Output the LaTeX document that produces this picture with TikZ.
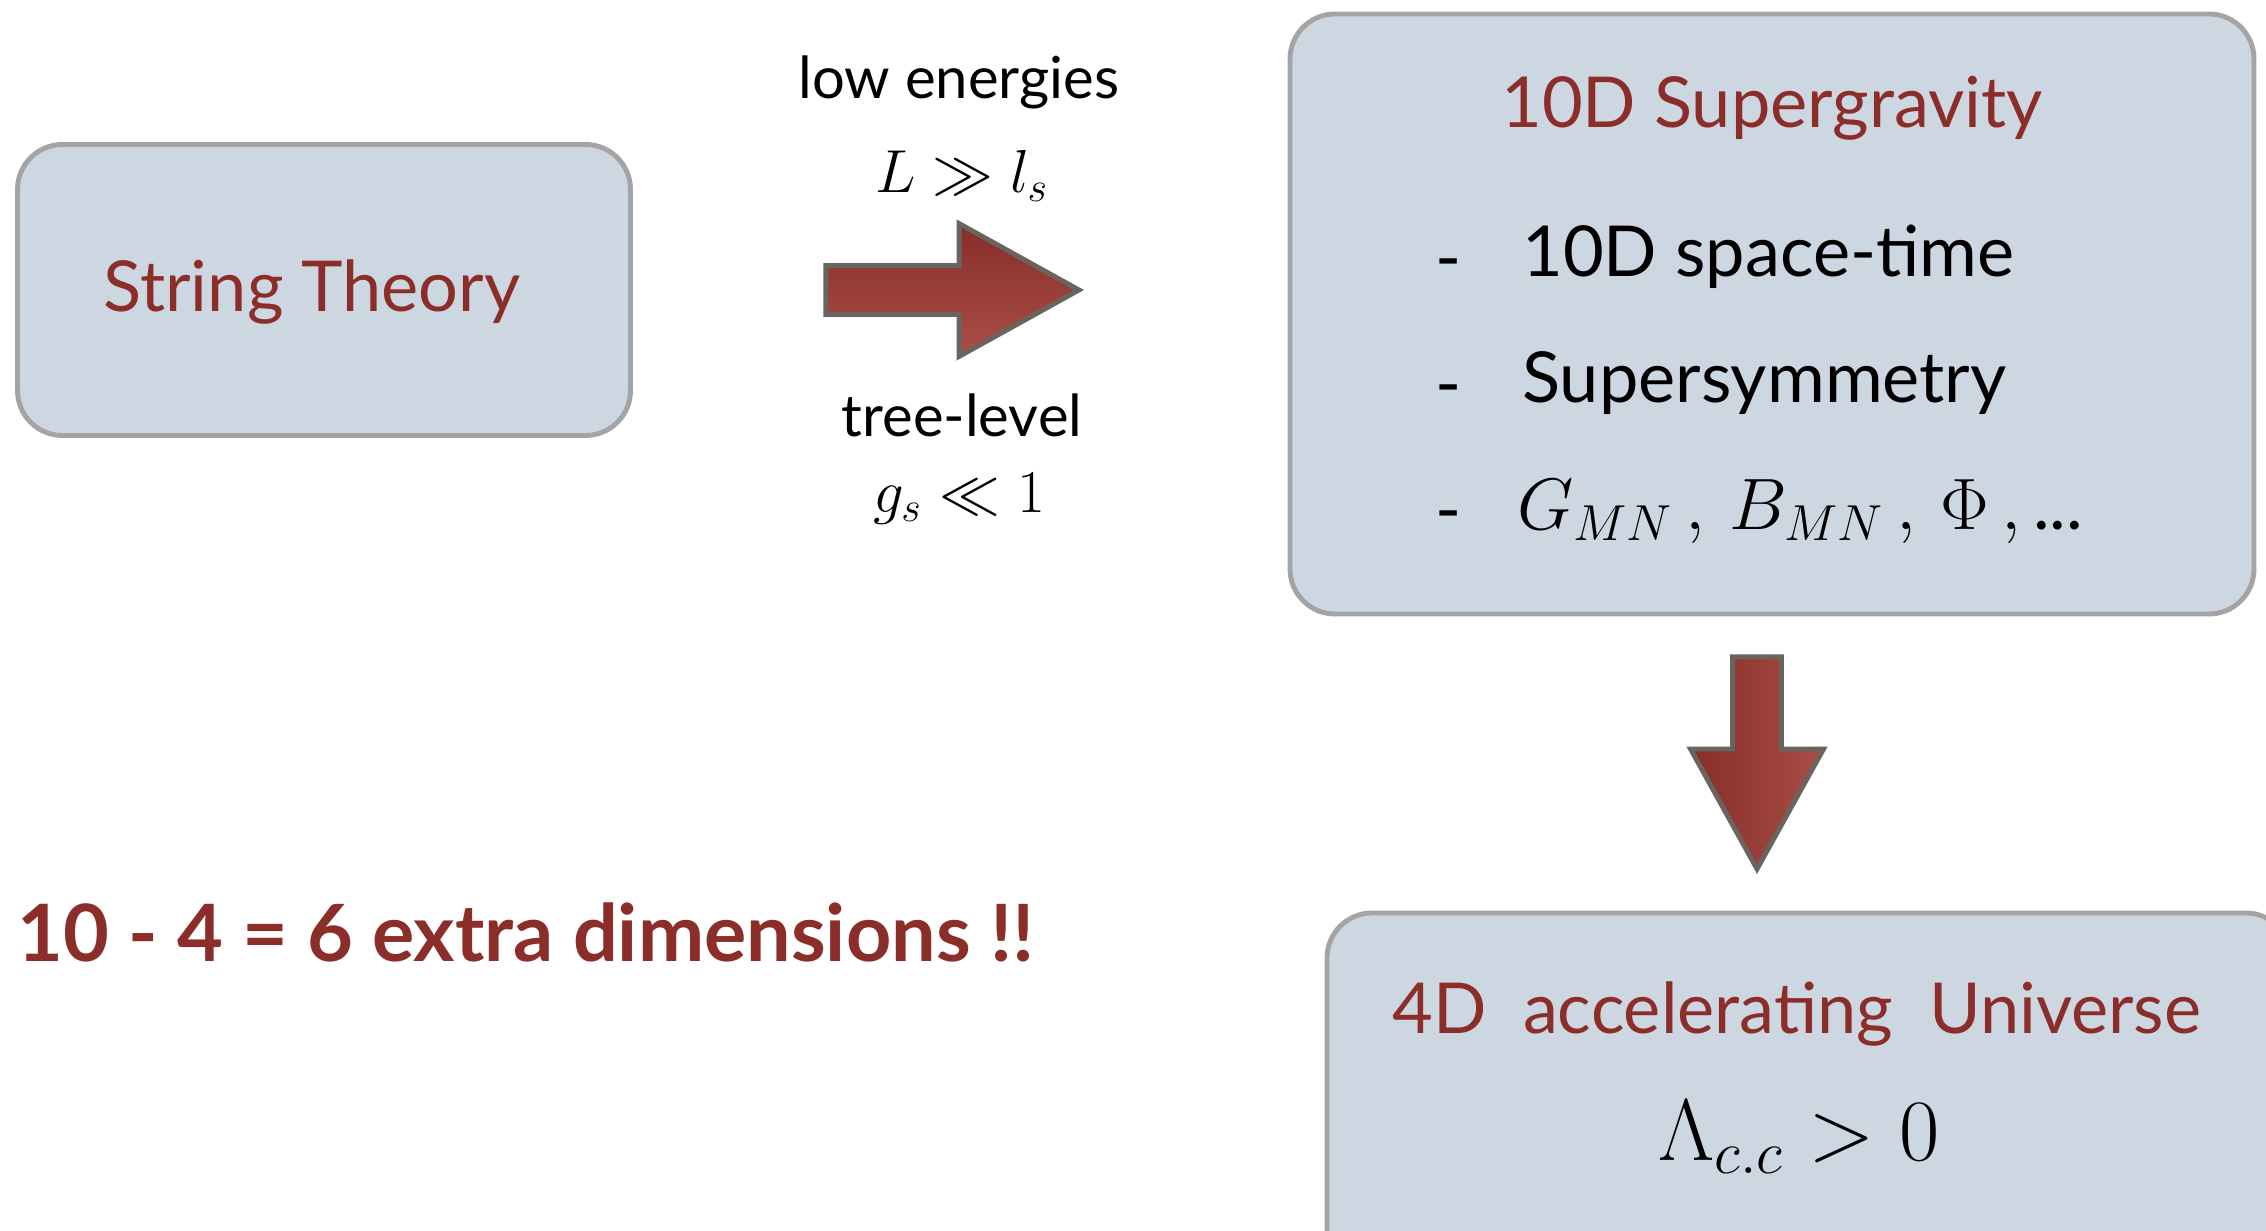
\documentclass[tikz,border=0pt]{standalone}
\usepackage{fontspec}
\setmainfont{Lato}
\usepackage{tikz}
\usetikzlibrary{positioning,shapes.arrows,calc}
\definecolor{boxfill}{HTML}{CDD7E1}
\definecolor{boxline}{HTML}{A4A4A4}
\definecolor{titlered}{HTML}{8B2E2A}
\definecolor{arrowline}{HTML}{6A645F}
\definecolor{arrowdark}{HTML}{872D29}
\definecolor{arrowlight}{HTML}{AA4E46}
\tikzset{
panel/.style={
draw=boxline,
line width=1.4pt,
fill=boxfill,
rounded corners=0.45cm,
inner sep=0pt
},
title/.style={
text=titlered,
font=\fontsize{20}{24}\selectfont
},
item/.style={
anchor=west,
font=\fontsize{20}{24}\selectfont
},
dashmark/.style={
font=\fontsize{20}{24}\selectfont
},
cond/.style={
font=\fontsize{16.5}{19}\selectfont
},
condmath/.style={
font=\fontsize{18.5}{21}\selectfont
},
bigarrow/.style={
single arrow,
draw=arrowline,
line width=1.4pt,
inner xsep=0pt,
inner ysep=0.22cm,
single arrow head extend=0.42cm,
single arrow tip angle=58,
anchor=tip
}
}

\begin{document}
\begin{tikzpicture}
\clip (0,0) rectangle (22.66,-12.31);
\useasboundingbox (0,0) rectangle (22.66,-12.31);

% boxes
\node[panel,minimum width=6.13cm,minimum height=2.91cm](string) at (3.24,-2.90){};
\node[title](stringtxt) at (3.12,-2.92){String Theory};

\node[panel,minimum width=9.64cm,minimum height=6.00cm](sugra) at (17.72,-3.14){};
\node[title](sugratxt) at (17.72,-1.08){10D Supergravity};
\node[dashmark](d1) at (14.49,-2.71){-};
\node[dashmark](d2) at (14.49,-3.97){-};
\node[dashmark](d3) at (14.49,-5.23){-};
\node[item](i1) at (15.10,-2.57){10D space-time};
\node[item](i2) at (15.10,-3.83){Supersymmetry};
\node[item](i3) at (15.05,-5.12){$G_{MN}\,,\,B_{MN}\,,\,\Phi\,,\,$...};

\node[panel,minimum width=9.64cm,minimum height=4.00cm](univ) at (18.09,-11.13){};
\node[title](univtxt) at (17.97,-10.14){4D~~accelerating~~Universe};
\node[font=\fontsize{23}{27}\selectfont](lambda) at (17.99,-11.37){$\Lambda_{c.c}>0$};

% arrows
\node[bigarrow,minimum height=2.53cm,top color=arrowdark,bottom color=arrowlight](rarrow) at (10.84,-2.90){};
\node[bigarrow,minimum height=2.12cm,rotate=-90,left color=arrowdark,right color=arrowlight](darrow) at (17.57,-8.74){};

% conditions
\node[condmath](lmath) at (9.62,-1.76){$L\gg l_s$};
\node[cond](lowtxt) at (9.59,-0.82){low energies};
\node[cond](treetxt) at (9.62,-4.15){tree-level};
\node[condmath](gmath) at (9.59,-4.99){$g_s\ll 1$};

\node[anchor=west,text=titlered,font=\fontsize{22.5}{27}\selectfont\bfseries](extra) at (0.05,-9.32){10 - 4 = 6 extra dimensions !!};
\end{tikzpicture}
\end{document}
